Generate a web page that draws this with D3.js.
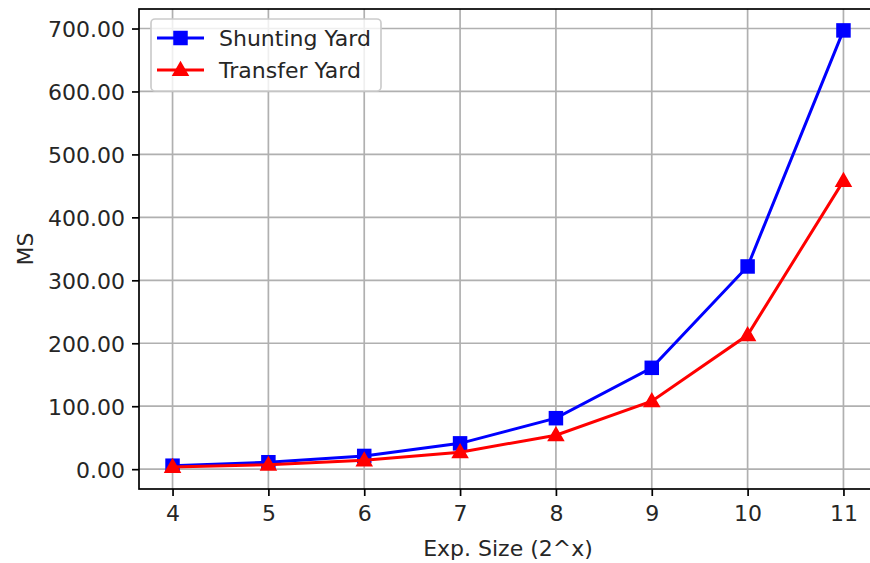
<!DOCTYPE html>
<html>
<head>
<meta charset="utf-8">
<script src="https://cdnjs.cloudflare.com/ajax/libs/d3/7.8.5/d3.min.js"></script>
<style>
  body { margin: 0; background: #fff; }
  svg { font-family: "DejaVu Sans", sans-serif; }
</style>
</head>
<body>
<svg id="chart" width="870" height="563"></svg>
<script>
// values
var sizes = [4, 5, 6, 7, 8, 9, 10, 11];
var shunting = [5.5, 11, 21, 41, 81, 161, 322, 697];
var transfer = [3.5, 7, 14, 27, 54, 108, 213, 458];
var yTicks = [0, 100, 200, 300, 400, 500, 600, 700];
var seriesNames = ['Shunting Yard', 'Transfer Yard'];

var svg = d3.select('#chart');
var pLeft = 139, pRight = 877, pTop = 9, pBottom = 489;
var fontSize = 22;

var x = d3.scaleLinear().domain([3.65, 11.35]).range([pLeft, pRight]);
var y = d3.scaleLinear().domain([-31.5, 731]).range([pBottom, pTop]);

// grid
var grid = svg.append('g');
grid.selectAll('.gx').data(sizes).enter().append('line')
  .attr('x1', d => x(d)).attr('x2', d => x(d))
  .attr('y1', pTop).attr('y2', pBottom)
  .attr('stroke', '#b0b0b0').attr('stroke-width', 1.7);
grid.selectAll('.gy').data(yTicks).enter().append('line')
  .attr('x1', pLeft).attr('x2', pRight)
  .attr('y1', d => y(d)).attr('y2', d => y(d))
  .attr('stroke', '#b0b0b0').attr('stroke-width', 1.7);

// axes
var xAxis = d3.axisBottom(x).tickValues(sizes).tickSize(7).tickPadding(8)
  .tickFormat(d3.format('d'));
var yAxis = d3.axisLeft(y).tickValues(yTicks).tickSize(7).tickPadding(7)
  .tickFormat(d3.format('.2f'));

var gx = svg.append('g').attr('transform', 'translate(0,' + pBottom + ')').call(xAxis);
var gy = svg.append('g').attr('transform', 'translate(' + pLeft + ',0)').call(yAxis);
[gx, gy].forEach(function(g) {
  g.select('.domain').remove();
  g.selectAll('.tick line').attr('stroke', '#000').attr('stroke-width', 1.7);
  g.selectAll('.tick text').attr('fill', '#262626')
    .style('font-size', fontSize + 'px').style('font-family', '"DejaVu Sans", sans-serif');
});
gy.selectAll('.tick text').attr('dy', '0.36em');
gx.selectAll('.tick text').attr('dy', '0.75em');

// spines
svg.append('rect')
  .attr('x', pLeft).attr('y', pTop)
  .attr('width', pRight - pLeft).attr('height', pBottom - pTop)
  .attr('fill', 'none').attr('stroke', '#000').attr('stroke-width', 1.7);

// axis labels
svg.append('text')
  .attr('x', (pLeft + pRight) / 2).attr('y', 556)
  .attr('text-anchor', 'middle').attr('fill', '#262626')
  .style('font-size', fontSize + 'px')
  .text('Exp. Size (2^x)');
svg.append('text')
  .attr('transform', 'translate(33,' + ((pTop + pBottom) / 2) + ') rotate(-90)')
  .attr('text-anchor', 'middle').attr('fill', '#262626')
  .style('font-size', fontSize + 'px')
  .text('MS');

// series
var line = d3.line().x((d, i) => x(sizes[i])).y(d => y(d));
var ms = 12.5;
var tri = d3.symbol().type(d3.symbolTriangle).size(ms * ms * 0.55);

function drawMarker(g, kind, cx, cy, color) {
  if (kind === 'square') {
    g.append('rect')
      .attr('x', cx - ms / 2).attr('y', cy - ms / 2)
      .attr('width', ms).attr('height', ms)
      .attr('fill', color).attr('stroke', color).attr('stroke-width', 2);
  } else {
    g.append('path')
      .attr('d', tri)
      .attr('transform', 'translate(' + cx + ',' + (cy + 1) + ')')
      .attr('fill', color).attr('stroke', color).attr('stroke-width', 2)
      .attr('stroke-linejoin', 'miter');
  }
}

var series = [
  {name: seriesNames[0], values: shunting, color: '#0000ff', marker: 'square'},
  {name: seriesNames[1], values: transfer, color: '#ff0000', marker: 'triangle'}
];

series.forEach(function(s) {
  var g = svg.append('g');
  g.append('path')
    .datum(s.values)
    .attr('d', line)
    .attr('fill', 'none').attr('stroke', s.color).attr('stroke-width', 3);
  s.values.forEach(function(v, i) {
    drawMarker(g, s.marker, x(sizes[i]), y(v), s.color);
  });
});

// legend
var lg = svg.append('g');
lg.append('rect')
  .attr('x', 151).attr('y', 19).attr('width', 230).attr('height', 72)
  .attr('rx', 4).attr('ry', 4)
  .attr('fill', '#fff').attr('fill-opacity', 0.8)
  .attr('stroke', '#cccccc').attr('stroke-width', 1.7);
series.forEach(function(s, i) {
  var ly = 38 + i * 32;
  lg.append('line')
    .attr('x1', 157).attr('x2', 204).attr('y1', ly).attr('y2', ly)
    .attr('stroke', s.color).attr('stroke-width', 3);
  drawMarker(lg, s.marker, 180.5, ly, s.color);
  lg.append('text')
    .attr('x', 219).attr('y', ly + 8)
    .attr('fill', '#262626')
    .style('font-size', fontSize + 'px')
    .text(s.name);
});
</script>
</body>
</html>
